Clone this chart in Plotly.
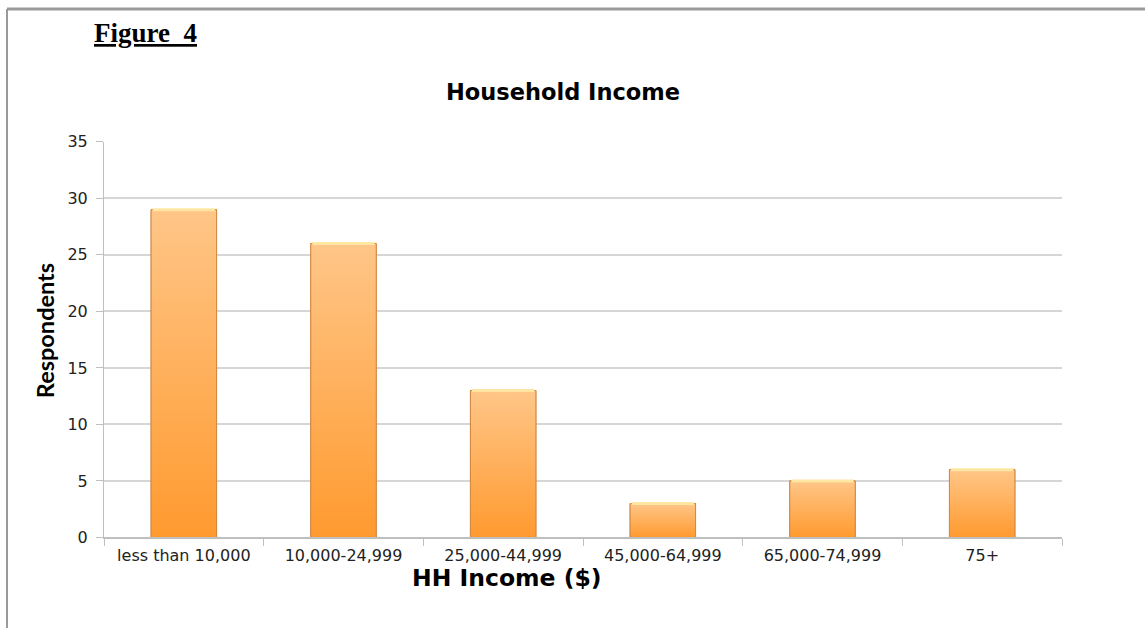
import plotly.graph_objects as go

# Survey data: household income brackets and number of respondents
categories = ["less than 10,000", "10,000-24,999", "25,000-44,999",
              "45,000-64,999", "65,000-74,999", "75+"]
respondents = [29, 26, 13, 3, 5, 6]
y_ticks = [0, 5, 10, 15, 20, 25, 30, 35]

W, H = 1145, 638
BAR_W = 0.41
x_pos = list(range(len(categories)))

fig = go.Figure()

# base bars
fig.add_trace(go.Bar(
    x=x_pos, y=respondents, width=BAR_W,
    marker=dict(color="#FFB060", line=dict(color="#C98A4A", width=1)),
    showlegend=False, hoverinfo="x+y",
))

# vertical orange gradient laid over each bar (light at top, deeper at bottom)
for xi, v in zip(x_pos, respondents):
    x0, x1 = xi - BAR_W / 2, xi + BAR_W / 2
    fig.add_trace(go.Scatter(
        x=[x0, x1, x1, x0, x0], y=[0, 0, v, v, 0],
        mode="lines", fill="toself",
        fillgradient=dict(type="vertical",
                          colorscale=[[0, "#FF9A2F"], [1, "#FFC688"]]),
        line=dict(color="#CF8A45", width=1),
        showlegend=False, hoverinfo="skip",
    ))
    # bevel highlight along the top edge
    fig.add_trace(go.Scatter(
        x=[x0 + 0.01, x1 - 0.01], y=[v, v], mode="lines",
        line=dict(color="#FFE6A2", width=3),
        showlegend=False, hoverinfo="skip",
    ))

# page-pixel helpers (horizontal / vertical position -> paper fraction)
px = lambda x: x / W
py = lambda y: 1 - ((y - 7.7) / 0.9736) / H

fig.update_layout(
    width=W, height=H, autosize=False,
    margin=dict(l=0, r=0, t=0, b=0),
    paper_bgcolor="white", plot_bgcolor="white",
    font=dict(family="DejaVu Sans", color="#222222"),
    xaxis=dict(
        domain=[px(104), px(1062)],
        range=[-0.5, len(categories) - 0.5],
        tickmode="array", tickvals=x_pos, ticktext=categories,
        ticks="", showgrid=False, zeroline=False,
        showline=True, linecolor="#BFBFBF", linewidth=1.5,
        tickfont=dict(size=16, family="DejaVu Sans", color="#222222"),
        ticklabelstandoff=3,
        minor=dict(tickmode="array",
                   tickvals=[i - 0.5 for i in range(len(categories) + 1)],
                   ticks="outside", ticklen=7, tickcolor="#BFBFBF",
                   showgrid=False),
        fixedrange=True,
    ),
    yaxis=dict(
        domain=[py(538), py(141)],
        range=[0, 35],
        tickmode="array", tickvals=y_ticks,
        ticks="outside", ticklen=7, tickcolor="#BFBFBF",
        showgrid=True, gridcolor="#D6D6D6", gridwidth=1.5,
        zeroline=False,
        showline=True, linecolor="#BFBFBF", linewidth=1,
        tickfont=dict(size=16, family="DejaVu Sans", color="#222222"),
        ticklabelstandoff=5,
        fixedrange=True,
    ),
    annotations=[
        dict(text="<b><u>Figure\u00a0\u00a04</u></b>", x=px(92), y=py(32),
             xref="paper", yref="paper", xanchor="left", yanchor="middle",
             showarrow=False,
             font=dict(family="Liberation Serif", size=27, color="black")),
        dict(text="<b>Household Income</b>", x=px(563), y=py(91),
             xref="paper", yref="paper", xanchor="center", yanchor="middle",
             showarrow=False,
             font=dict(family="DejaVu Sans", size=22.5, color="black")),
        dict(text="<b>HH Income ($)</b>", x=px(507), y=py(579),
             xref="paper", yref="paper", xanchor="center", yanchor="middle",
             showarrow=False,
             font=dict(family="DejaVu Sans", size=23.5, color="black")),
        dict(text="<b>Respondents</b>", x=px(45), y=py(331),
             xref="paper", yref="paper", xanchor="center", yanchor="middle",
             showarrow=False, textangle=-90,
             font=dict(family="Lato", size=23.5, color="black")),
    ],
    shapes=[
        dict(type="line", xref="paper", yref="paper",
             x0=px(7), x1=1, y0=1, y1=1,
             line=dict(color="#9A9A9A", width=3)),
        dict(type="line", xref="paper", yref="paper",
             x0=px(7), x1=px(7), y0=1, y1=0,
             line=dict(color="#9A9A9A", width=2)),
    ],
)

fig.write_html("out.html", config={"responsive": False})
